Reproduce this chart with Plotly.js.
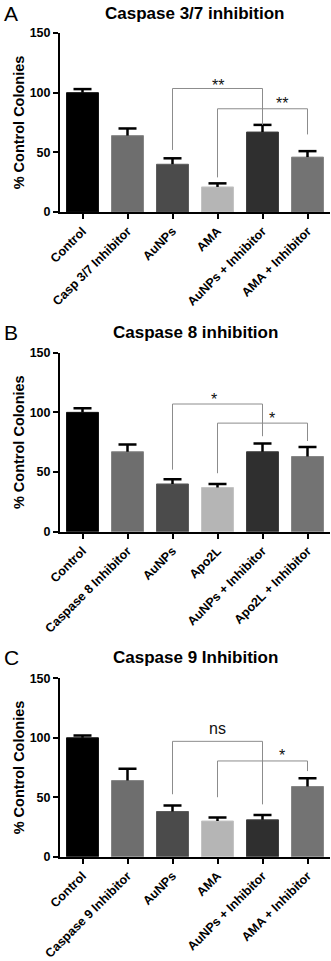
<!DOCTYPE html>
<html>
<head>
<meta charset="utf-8">
<script src="https://cdn.plot.ly/plotly-3.0.1.min.js"></script>
<style>
  body { margin: 0; background: #fff; }
  #chart { width: 331px; height: 961px; }
</style>
</head>
<body>
<div id="chart"></div>
<script>
// Panel A - Caspase 3/7
const groupsA = ['Control', 'Casp 3/7 Inhibitor', 'AuNPs', 'AMA', 'AuNPs + Inhibitor', 'AMA + Inhibitor'];
const meansA = [100, 64, 40, 21, 67, 46];
const errA = [3, 6, 5, 3, 6, 5];
// [from, to, leftFoot, top, rightFoot, label, labelX, labelY]
const bracketsA = [
    [2, 4, 52, 103.5, 73, '**', 3.0, 106],
    [3, 5, 29, 86.5, 65, '**', 4.44, 91]
];

// Panel B - Caspase 8
const groupsB = ['Control', 'Caspase 8 Inhibitor', 'AuNPs', 'Apo2L', 'AuNPs + Inhibitor', 'Apo2L + Inhibitor'];
const meansB = [100, 67, 40, 37, 67, 63];
const errB = [3.5, 6, 4, 3, 7, 8];
const bracketsB = [
    [2, 4, 52, 107, 80, '*', 2.93, 111],
    [3, 5, 49, 91, 76, '*', 4.22, 95]
];

// Panel C - Caspase 9
const groupsC = ['Control', 'Caspase 9 Inhibitor', 'AuNPs', 'AMA', 'AuNPs + Inhibitor', 'AMA + Inhibitor'];
const meansC = [100, 64, 38, 30, 31, 59];
const errC = [2, 10, 5, 3, 4, 7];
const bracketsC = [
    [2, 4, 52.5, 97, 44, 'ns', 3.0, 108],
    [3, 5, 50, 80.5, 72, '*', 4.44, 85.5]
];

const barColors = ['#000000', '#6e6e6e', '#4b4b4b', '#b5b5b5', '#2f2f2f', '#737373'];
const barEdges = ['#111111', '#858585', '#5c5c5c', '#c4c4c4', '#3e3e3e', '#878787'];

const FONT = 'Liberation Sans, Arial, sans-serif';
const H = 961;
const CAP = 0.2; // half cap width, in category units

function axisIds(n) {
    return n === 1 ? ['x', 'y'] : ['x' + n, 'y' + n];
}

function makeBars(groups, means, n) {
    const ids = axisIds(n);
    return {
        type: 'bar',
        x: groups.map((g, i) => i),
        y: means,
        xaxis: ids[0], yaxis: ids[1],
        width: 0.71,
        marker: {color: barColors, line: {color: barEdges, width: 1}},
        hovertext: groups, hoverinfo: 'text+y',
        showlegend: false
    };
}

// upward-only error bars: stem from bar top plus a cap
function makeErrors(means, errs, n) {
    const ids = axisIds(n);
    const xs = [], ys = [];
    means.forEach((m, i) => {
        xs.push(i, i, null, i - CAP, i + CAP, null);
        ys.push(m, m + errs[i], null, m + errs[i], m + errs[i], null);
    });
    return {
        type: 'scatter', mode: 'lines',
        x: xs, y: ys,
        xaxis: ids[0], yaxis: ids[1],
        line: {color: '#000', width: 2.5},
        hoverinfo: 'skip', showlegend: false
    };
}

function bracketShapes(brackets, n) {
    const ids = axisIds(n);
    const line = {color: '#8c8c8c', width: 1};
    const shapes = [];
    brackets.forEach(b => {
        shapes.push({type: 'line', xref: ids[0], yref: ids[1], x0: b[0], x1: b[0], y0: b[2], y1: b[3], line: line});
        shapes.push({type: 'line', xref: ids[0], yref: ids[1], x0: b[0], x1: b[1], y0: b[3], y1: b[3], line: line});
        shapes.push({type: 'line', xref: ids[0], yref: ids[1], x0: b[1], x1: b[1], y0: b[3], y1: b[4], line: line});
    });
    return shapes;
}

function bracketLabels(brackets, n) {
    const ids = axisIds(n);
    return brackets.map(b => ({
        xref: ids[0], yref: ids[1], x: b[6], y: b[7], text: b[5], showarrow: false,
        font: {family: FONT, size: 16, color: '#111'}
    }));
}

// pixel rows of each panel's 150 and 0 ticks
function dom(topPx, bottomPx) {
    return [1 - bottomPx / H, 1 - topPx / H];
}

function xAxis(anchor, groups) {
    return {
        anchor: anchor, domain: [0, 1], range: [-0.5, 5.5],
        tickvals: groups.map((g, i) => i), ticktext: groups,
        showline: true, linecolor: '#000', linewidth: 2,
        ticks: 'outside', ticklen: 5, tickwidth: 2, tickcolor: '#000',
        tickangle: -45, tickfont: {family: FONT, size: 12.5, color: '#000', weight: 'bold'},
        showgrid: false, zeroline: false, fixedrange: true
    };
}

function yAxis(anchor, domain) {
    return {
        anchor: anchor, domain: domain, range: [0, 150],
        tickvals: [0, 50, 100, 150],
        showline: true, linecolor: '#000', linewidth: 2,
        ticks: 'outside', ticklen: 5, tickwidth: 2, tickcolor: '#000',
        tickfont: {family: FONT, size: 12.5, color: '#000', weight: 'bold'},
        title: {text: '% Control Colonies', standoff: 2, font: {family: FONT, size: 14.5, color: '#000', weight: 'bold'}},
        showgrid: false, zeroline: false, fixedrange: true
    };
}

function panelText(letter, title, yPx) {
    return [
        {xref: 'paper', yref: 'paper', x: -58 / 270, y: 1 - yPx / H, xanchor: 'left', yanchor: 'middle',
         text: letter, showarrow: false, font: {family: FONT, size: 21, color: '#000'}},
        {xref: 'paper', yref: 'paper', x: 0.5, y: 1 - yPx / H, xanchor: 'center', yanchor: 'middle',
         text: title, showarrow: false, font: {family: FONT, size: 17, color: '#000', weight: 'bold'}}
    ];
}

function drawChart() {
    const data = [
        makeBars(groupsA, meansA, 1), makeErrors(meansA, errA, 1),
        makeBars(groupsB, meansB, 2), makeErrors(meansB, errB, 2),
        makeBars(groupsC, meansC, 3), makeErrors(meansC, errC, 3)
    ];

    const layout = {
        width: 331, height: 961,
        margin: {l: 60, r: 1, t: 0, b: 0},
        paper_bgcolor: '#fff', plot_bgcolor: '#fff',
        xaxis: xAxis('y', groupsA),
        yaxis: yAxis('x', dom(33, 212)),
        xaxis2: xAxis('y2', groupsB),
        yaxis2: yAxis('x2', dom(352.7, 531.7)),
        xaxis3: xAxis('y3', groupsC),
        yaxis3: yAxis('x3', dom(678.3, 856.7)),
        shapes: [].concat(bracketShapes(bracketsA, 1), bracketShapes(bracketsB, 2), bracketShapes(bracketsC, 3)),
        annotations: [].concat(
            panelText('A', 'Caspase 3/7 inhibition', 13),
            panelText('B', 'Caspase 8 inhibition', 332),
            panelText('C', 'Caspase 9 Inhibition', 657),
            bracketLabels(bracketsA, 1), bracketLabels(bracketsB, 2), bracketLabels(bracketsC, 3)
        )
    };

    Plotly.newPlot('chart', data, layout, {displayModeBar: false, responsive: false});
}

document.addEventListener('DOMContentLoaded', drawChart);
</script>
</body>
</html>
